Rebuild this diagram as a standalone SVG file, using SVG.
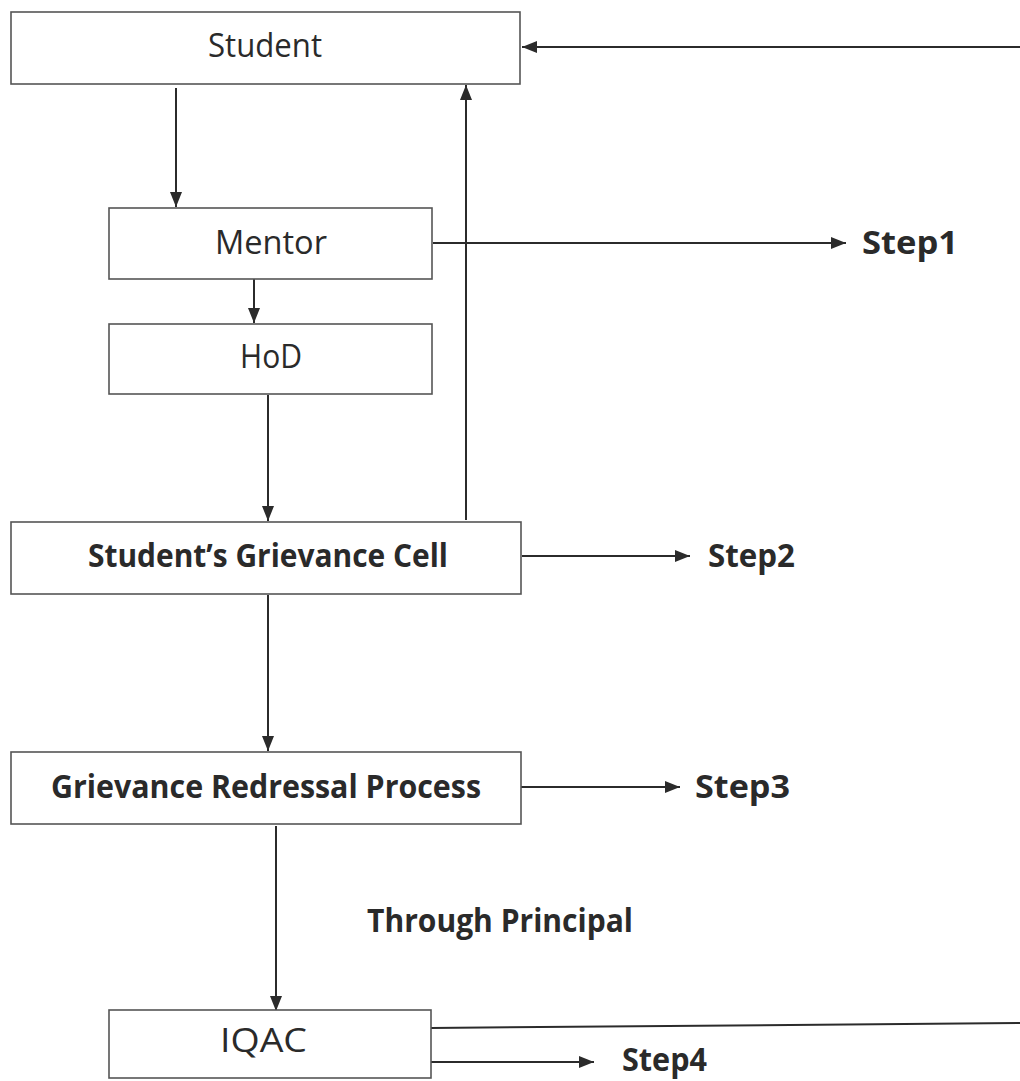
<svg xmlns="http://www.w3.org/2000/svg" width="1020" height="1081" viewBox="0 0 1020 1081">
<defs>
<marker id="ah" markerUnits="userSpaceOnUse" markerWidth="16" markerHeight="14" refX="15" refY="7" orient="auto">
<path d="M0,1 L15,7 L0,13 z" fill="#2b2b2b"/>
</marker>
</defs>
<style>
.box{fill:#fff;stroke:#555;stroke-width:1.6}
.t{font-family:"Open Sans","Noto Sans",sans-serif;fill:#2a2a2a;font-size:32px}
.b{font-family:"Open Sans","Noto Sans",sans-serif;fill:#2a2a2a;font-size:32px;font-weight:bold}
.c{stroke:#2b2b2b;stroke-width:2;fill:none}
.ca{stroke:#2b2b2b;stroke-width:2;fill:none;marker-end:url(#ah)}
</style>
<rect width="1020" height="1081" fill="#fff"/>
<g id="connectors">
<line class="ca" x1="1020" y1="47" x2="522" y2="47"/>
<line class="ca" x1="176" y1="88" x2="176" y2="207"/>
<line class="ca" x1="466" y1="520" x2="466" y2="85"/>
<line class="ca" x1="433" y1="243" x2="846" y2="243"/>
<line class="ca" x1="254" y1="279" x2="254" y2="323"/>
<line class="ca" x1="268" y1="395" x2="268" y2="521"/>
<line class="ca" x1="522" y1="556" x2="690" y2="556"/>
<line class="ca" x1="268" y1="595" x2="268" y2="751"/>
<line class="ca" x1="521" y1="787" x2="680" y2="787"/>
<line class="ca" x1="276" y1="826" x2="276" y2="1011"/>
<line class="c" x1="431" y1="1028" x2="1020" y2="1023"/>
<line class="ca" x1="431" y1="1062" x2="594" y2="1062"/>
</g>
<g id="student">
<rect class="box" x="11" y="12" width="509" height="72"/>
<text class="t" x="208" y="57" textLength="114" lengthAdjust="spacingAndGlyphs">Student</text>
</g>
<g id="mentor">
<rect class="box" x="109" y="208" width="323" height="71"/>
<text class="t" x="215" y="254" textLength="112" lengthAdjust="spacingAndGlyphs">Mentor</text>
</g>
<g id="hod">
<rect class="box" x="109" y="324" width="323" height="70"/>
<text class="t" x="240" y="368" textLength="62" lengthAdjust="spacingAndGlyphs">HoD</text>
</g>
<g id="grievance-cell">
<rect class="box" x="11" y="522" width="510" height="72"/>
<text class="b" x="88" y="567" textLength="360" lengthAdjust="spacingAndGlyphs">Student’s Grievance Cell</text>
</g>
<g id="redressal">
<rect class="box" x="11" y="752" width="510" height="72"/>
<text class="b" x="51" y="798" textLength="430" lengthAdjust="spacingAndGlyphs">Grievance Redressal Process</text>
</g>
<g id="iqac">
<rect class="box" x="109" y="1010" width="322" height="68"/>
<text class="t" x="220" y="1052" textLength="87" lengthAdjust="spacingAndGlyphs">IQAC</text>
</g>
<g id="labels">
<text class="b" x="862" y="254" textLength="96" lengthAdjust="spacingAndGlyphs">Step1</text>
<text class="b" x="708" y="567" textLength="87" lengthAdjust="spacingAndGlyphs">Step2</text>
<text class="b" x="695" y="798" textLength="95" lengthAdjust="spacingAndGlyphs">Step3</text>
<text class="b" x="367" y="932" textLength="266" lengthAdjust="spacingAndGlyphs">Through Principal</text>
<text class="b" x="622" y="1071" font-size="30" textLength="85" lengthAdjust="spacingAndGlyphs">Step4</text>
</g>
</svg>
